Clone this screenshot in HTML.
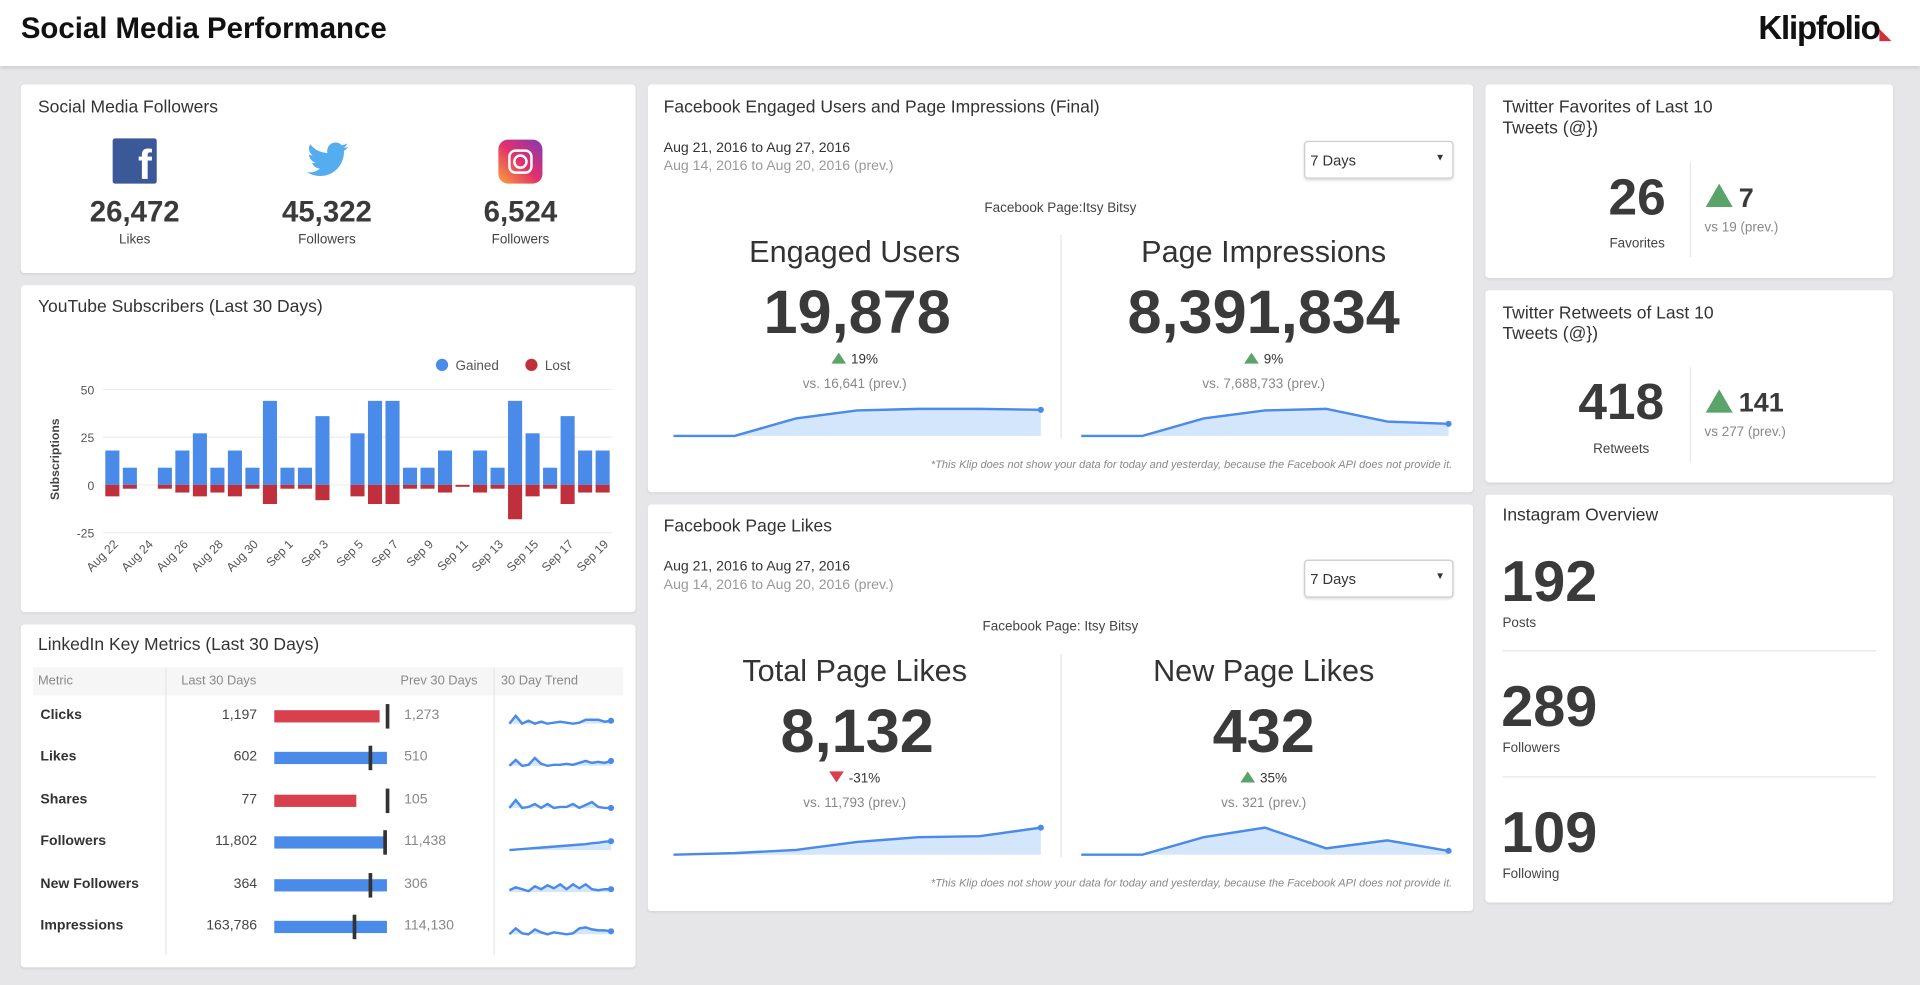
<!DOCTYPE html>
<html><head><meta charset="utf-8"><style>
html,body{margin:0;padding:0;width:1920px;height:985px;overflow:hidden;background:#e6e6e8;font-family:"Liberation Sans",sans-serif;}
#w{position:absolute;left:0;top:0;width:1568px;height:804px;transform:scale(1.22449);transform-origin:0 0;}
.a{position:absolute;}
.p{position:absolute;background:#fff;border-radius:3px;box-shadow:0 1px 2px rgba(0,0,0,.08);}
.t{position:absolute;font-size:14.3px;color:#333;}
.c{position:absolute;text-align:center;transform:translateX(-50%);white-space:nowrap;}
.big{font-weight:bold;color:#3a3a3a;}
.sm{font-size:11px;color:#444;}
.g{color:#888;}
.up{display:inline-block;width:0;height:0;border-left:6px solid transparent;border-right:6px solid transparent;border-bottom:9px solid #5aa469;margin-right:4px;}
.dn{display:inline-block;width:0;height:0;border-left:6px solid transparent;border-right:6px solid transparent;border-top:9px solid #d9404e;margin-right:4px;}
.dd{position:absolute;border:1px solid #ccc;border-radius:3px;font-size:12px;color:#333;box-shadow:0 1px 2px rgba(0,0,0,.15);}
.row{position:absolute;font-size:11.5px;}
</style></head><body><div id="w">
<div class="a" style="left:0;top:0;width:1568px;height:54px;background:#fff;box-shadow:0 1px 3px rgba(0,0,0,.15)"></div>
<div class="a" style="left:17px;top:10px;font-size:24px;font-weight:bold;color:#111">Social Media Performance</div>
<div class="a" style="left:1436px;top:8px;font-size:27px;font-weight:bold;color:#111;letter-spacing:-1px">Klipfolio<span style="color:#d32f3b;font-size:12px">◣</span></div>

<!-- panel 1 -->
<div class="p" style="left:17px;top:69px;width:502px;height:154px"></div>
<div class="t" style="left:31px;top:80px">Social Media Followers</div>
<div class="a" style="left:92px;top:113px;width:36px;height:37px;background:#3b5998;border-radius:2px;color:#fff;font-weight:bold;font-size:34px;text-align:right;line-height:44px;overflow:hidden"><span style="margin-right:4px">f</span></div>
<svg class="a" style="left:250px;top:115px" width="36" height="32" viewBox="0 0 24 20"><path d="M23 2.5c-.8.4-1.7.6-2.6.7.9-.6 1.6-1.4 2-2.5-.9.5-1.900.9-2.9 1.1A4.6 4.6 0 0 0 11.6 6 13 13 0 0 1 2.2 1.2a4.6 4.6 0 0 0 1.4 6.1c-.7 0-1.4-.2-2-.6 0 2.2 1.6 4.100 3.7 4.5-.7.2-1.4.2-2 .1.6 1.8 2.3 3.2 4.3 3.2A9.2 9.2 0 0 1 .5 16.4 13 13 0 0 0 7.5 18.5c8.5 0 13.100-7 13.100-13.100v-.6c.9-.6 1.7-1.4 2.4-2.3z" fill="#55acee"/></svg>
<div class="a" style="left:407px;top:114px;width:36px;height:36px;border-radius:8px;background:linear-gradient(45deg,#f9a23a,#e1306c 50%,#833ab4)"><div class="a" style="left:8px;top:8px;width:16px;height:16px;border:2.5px solid #fff;border-radius:6px"></div><div class="a" style="left:12px;top:12px;width:8px;height:8px;border:2.5px solid #fff;border-radius:50%"></div></div>
<div class="c big" style="left:110px;top:160px;font-size:24px">26,472</div><div class="c sm" style="left:110px;top:190px">Likes</div>
<div class="c big" style="left:267px;top:160px;font-size:24px">45,322</div><div class="c sm" style="left:267px;top:190px">Followers</div>
<div class="c big" style="left:425px;top:160px;font-size:24px">6,524</div><div class="c sm" style="left:425px;top:190px">Followers</div>

<!-- youtube -->
<div class="p" style="left:17px;top:233px;width:502px;height:267px"></div>
<div class="t" style="left:31px;top:243px">YouTube Subscribers (Last 30 Days)</div>
<svg class="a" id="yt" style="left:0;top:0" width="520" height="500"></svg>

<!-- linkedin -->
<div class="p" style="left:17px;top:510px;width:502px;height:280px"></div>
<div class="t" style="left:31px;top:519px">LinkedIn Key Metrics (Last 30 Days)</div>
<div class="a" style="left:27px;top:545px;width:482px;height:23px;background:#f6f6f6"></div>
<div class="a" style="left:135px;top:545px;width:1px;height:235px;background:#e6e6e6"></div>
<div class="a" style="left:403px;top:545px;width:1px;height:235px;background:#e6e6e6"></div>
<div class="row g" style="left:31px;top:550px;font-size:10.5px">Metric</div>
<div class="row g" style="left:148px;top:550px;font-size:10.5px">Last 30 Days</div>
<div class="row g" style="left:327px;top:550px;font-size:10.5px">Prev 30 Days</div>
<div class="row g" style="left:409px;top:550px;font-size:10.5px">30 Day Trend</div>
<div id="li"></div>

<!-- FB engaged -->
<div class="p" style="left:529px;top:69px;width:674px;height:333px"></div>
<div class="t" style="left:542px;top:80px">Facebook Engaged Users and Page Impressions (Final)</div>
<div class="a" style="left:542px;top:115px;font-size:11.5px;color:#333">Aug 21, 2016 to Aug 27, 2016</div>
<div class="a" style="left:542px;top:130px;font-size:11.5px;color:#999">Aug 14, 2016 to Aug 20, 2016 (prev.)</div>
<div class="dd" style="left:1065px;top:115px;width:120px;height:29px"><span class="a" style="left:4px;top:8px">7 Days</span><span class="a" style="right:6px;top:8px;font-size:8px">▼</span></div>
<div class="c sm" style="left:866px;top:164px">Facebook Page:Itsy Bitsy</div>
<div class="a" style="left:866px;top:192px;width:1px;height:166px;background:#e6e6e6"></div>
<div class="c" style="left:698px;top:192px;font-size:25px;color:#333">Engaged Users</div>
<div class="c big" style="left:700px;top:226px;font-size:50px">19,878</div>
<div class="c sm" style="left:698px;top:288px;color:#333"><span class="up"></span>19%</div>
<div class="c sm g" style="left:698px;top:308px">vs. 16,641 (prev.)</div>
<div class="c" style="left:1032px;top:192px;font-size:25px;color:#333">Page Impressions</div>
<div class="c big" style="left:1032px;top:226px;font-size:50px">8,391,834</div>
<div class="c sm" style="left:1032px;top:288px;color:#333"><span class="up"></span>9%</div>
<div class="c sm g" style="left:1032px;top:308px">vs. 7,688,733 (prev.)</div>
<div class="a" style="right:382px;top:374px;font-size:9px;font-style:italic;color:#888">*This Klip does not show your data for today and yesterday, because the Facebook API does not provide it.</div>

<!-- FB likes -->
<div class="p" style="left:529px;top:412px;width:674px;height:332px"></div>
<div class="t" style="left:542px;top:422px">Facebook Page Likes</div>
<div class="a" style="left:542px;top:457px;font-size:11.5px;color:#333">Aug 21, 2016 to Aug 27, 2016</div>
<div class="a" style="left:542px;top:472px;font-size:11.5px;color:#999">Aug 14, 2016 to Aug 20, 2016 (prev.)</div>
<div class="dd" style="left:1065px;top:457px;width:120px;height:29px"><span class="a" style="left:4px;top:8px">7 Days</span><span class="a" style="right:6px;top:8px;font-size:8px">▼</span></div>
<div class="c sm" style="left:866px;top:506px">Facebook Page: Itsy Bitsy</div>
<div class="a" style="left:866px;top:534px;width:1px;height:166px;background:#e6e6e6"></div>
<div class="c" style="left:698px;top:534px;font-size:25px;color:#333">Total Page Likes</div>
<div class="c big" style="left:700px;top:568px;font-size:50px">8,132</div>
<div class="c sm" style="left:698px;top:630px;color:#333"><span class="dn"></span>-31%</div>
<div class="c sm g" style="left:698px;top:650px">vs. 11,793 (prev.)</div>
<div class="c" style="left:1032px;top:534px;font-size:25px;color:#333">New Page Likes</div>
<div class="c big" style="left:1032px;top:568px;font-size:50px">432</div>
<div class="c sm" style="left:1032px;top:630px;color:#333"><span class="up"></span>35%</div>
<div class="c sm g" style="left:1032px;top:650px">vs. 321 (prev.)</div>
<div class="a" style="right:382px;top:716px;font-size:9px;font-style:italic;color:#888">*This Klip does not show your data for today and yesterday, because the Facebook API does not provide it.</div>
<svg class="a" id="fb" style="left:0;top:0" width="1210" height="720"></svg>

<!-- twitter -->
<div class="p" style="left:1213px;top:69px;width:333px;height:158px"></div>
<div class="t" style="left:1227px;top:80px;line-height:17px">Twitter Favorites of Last 10<br>Tweets (@})</div>
<div class="c big" style="left:1337px;top:137px;font-size:42px">26</div>
<div class="c sm" style="left:1337px;top:193px">Favorites</div>
<div class="a" style="left:1380px;top:133px;width:1px;height:77px;background:#e6e6e6"></div>
<div class="a" style="left:1393px;top:150px;border-left:11px solid transparent;border-right:11px solid transparent;border-bottom:19px solid #5aa469"></div>
<div class="a big" style="left:1420px;top:149px;font-size:22px">7</div>
<div class="a sm g" style="left:1392px;top:180px">vs 19 (prev.)</div>

<div class="p" style="left:1213px;top:237px;width:333px;height:157px"></div>
<div class="t" style="left:1227px;top:248px;line-height:17px">Twitter Retweets of Last 10<br>Tweets (@})</div>
<div class="c big" style="left:1324px;top:304px;font-size:42px">418</div>
<div class="c sm" style="left:1324px;top:361px">Retweets</div>
<div class="a" style="left:1380px;top:300px;width:1px;height:77px;background:#e6e6e6"></div>
<div class="a" style="left:1393px;top:318px;border-left:11px solid transparent;border-right:11px solid transparent;border-bottom:19px solid #5aa469"></div>
<div class="a big" style="left:1420px;top:316px;font-size:22px">141</div>
<div class="a sm g" style="left:1392px;top:347px">vs 277 (prev.)</div>

<!-- instagram -->
<div class="p" style="left:1213px;top:404px;width:333px;height:333px"></div>
<div class="t" style="left:1227px;top:413px">Instagram Overview</div>
<div class="a big" style="left:1226px;top:447px;font-size:47px">192</div>
<div class="a sm" style="left:1227px;top:503px">Posts</div>
<div class="a" style="left:1227px;top:531px;width:305px;height:1px;background:#e6e6e6"></div>
<div class="a big" style="left:1226px;top:549px;font-size:47px">289</div>
<div class="a sm" style="left:1227px;top:605px">Followers</div>
<div class="a" style="left:1227px;top:634px;width:305px;height:1px;background:#e6e6e6"></div>
<div class="a big" style="left:1226px;top:652px;font-size:47px">109</div>
<div class="a sm" style="left:1227px;top:708px">Following</div>
</div>
<script>
var NS="http://www.w3.org/2000/svg";
function el(p,n,a,txt){var e=document.createElementNS(NS,n);for(var k in a)e.setAttribute(k,a[k]);if(txt!=null)e.textContent=txt;p.appendChild(e);return e;}
var yt=document.getElementById('yt');
var g=[18,9,0,9,18,27,9,18,9,44,9,9,36,0,27,44,44,9,9,18,0,18,9,44,27,9,36,18,18];
var l=[6,2,0,2,4,6,4,6,2,10,2,2,8,0,6,10,10,2,2,4,1,4,2,18,6,2,10,4,4];
var z=396,s=1.56;
[[50,'50'],[25,'25'],[0,'0'],[-25,'-25']].forEach(function(v){var y=z-v[0]*s;el(yt,'line',{x1:84,x2:500,y1:y,y2:y,stroke:'#eee'});el(yt,'text',{x:77,y:y+4,'font-size':10,fill:'#555','text-anchor':'end','font-family':'Liberation Sans'},v[1]);});
el(yt,'text',{transform:'translate(48,375) rotate(-90)','font-size':10,'font-weight':'bold',fill:'#444','text-anchor':'middle','font-family':'Liberation Sans'},'Subscriptions');
var labs=['Aug 22','Aug 24','Aug 26','Aug 28','Aug 30','Sep 1','Sep 3','Sep 5','Sep 7','Sep 9','Sep 11','Sep 13','Sep 15','Sep 17','Sep 19'];
for(var i=0;i<29;i++){var x=86+i*14.3;
 if(g[i])el(yt,'rect',{x:x,y:z-g[i]*s,width:11.5,height:g[i]*s,fill:'#4a8ae8'});
 if(l[i])el(yt,'rect',{x:x,y:z,width:11.5,height:l[i]*s,fill:'#c0303c'});
 if(i%2==0){var cx=x+11;el(yt,'text',{transform:'translate('+cx+',445) rotate(-45)','font-size':10,fill:'#555','text-anchor':'end','font-family':'Liberation Sans'},labs[i/2]);}
}
el(yt,'circle',{cx:361,cy:298,r:5,fill:'#4a8ae8'});el(yt,'text',{x:372,y:302,'font-size':11,fill:'#555','font-family':'Liberation Sans'},'Gained');
el(yt,'circle',{cx:434,cy:298,r:5,fill:'#c0303c'});el(yt,'text',{x:445,y:302,'font-size':11,fill:'#555','font-family':'Liberation Sans'},'Lost');

function spark(svg,x0,x1,yb,pts,amp){var n=pts.length,d='',xs=[];for(var i=0;i<n;i++){var x=x0+(x1-x0)*i/(n-1),y=yb-pts[i]*amp;xs.push([x,y]);d+=(i?'L':'M')+x.toFixed(1)+' '+y.toFixed(1);}
 el(svg,'path',{d:d+'L'+x1+' '+yb+'L'+x0+' '+yb+'Z',fill:'#d4e6fb'});el(svg,'path',{d:d,fill:'none',stroke:'#4a8ae8','stroke-width':2});el(svg,'circle',{cx:xs[n-1][0],cy:xs[n-1][1],r:2.5,fill:'#4a8ae8'});}
var fb=document.getElementById('fb');
spark(fb,550,850,356,[0,0,.55,.8,.85,.85,.82],26);
spark(fb,883,1183,356,[0,0,.55,.8,.85,.45,.38],26);
spark(fb,550,850,698,[0,.05,.15,.4,.55,.58,.85],26);
spark(fb,883,1183,698,[0,0,.55,.85,.2,.45,.12],26);

var li=document.getElementById('li');
var rows=[['Clicks','1,197',224,310,'#d9404e',315,'1,273',[0,.8,0,.3,0,.2,0,.1,.2,.1,0,.1,.4,.4,.4,.2,.3]],
['Likes','602',224,316,'#4a8ae8',301,'510',[0,.6,0,.1,.8,.2,0,.1,.1,.2,.1,.3,.5,.3,.4,.3,.5]],
['Shares','77',224,291,'#d9404e',315,'105',[0,.8,0,.1,.4,0,.4,0,.1,.1,.4,0,.3,.6,.1,0,0]],
['Followers','11,802',224,316,'#4a8ae8',313,'11,438',[0,.05,.1,.15,.2,.25,.3,.35,.4,.45,.5,.55,.6,.7,.75,.85,.9]],
['New Followers','364',224,316,'#4a8ae8',301,'306',[.2,.5,.3,.1,.6,.3,.7,.4,.8,.3,.8,.4,.8,.3,.2,.3,.3]],
['Impressions','163,786',224,316,'#4a8ae8',288,'114,130',[0,.6,.1,0,.5,.2,0,.2,.1,0,.1,.6,.7,.5,.4,.4,.3]]];
var h='<svg class="a" style="left:0;top:0" width="520" height="800" id="ls"></svg>';
rows.forEach(function(r,i){var y=585+i*34.4;
 h+='<div class="row" style="left:33px;top:'+(y-7)+'px;font-weight:bold;color:#333">'+r[0]+'</div>';
 h+='<div class="row" style="right:1358px;top:'+(y-7)+'px;color:#444">'+r[1]+'</div>';
 h+='<div class="a" style="left:'+r[2]+'px;top:'+(y-5)+'px;width:'+(r[3]-r[2])+'px;height:10px;background:'+r[4]+'"></div>';
 h+='<div class="a" style="left:'+r[5]+'px;top:'+(y-10)+'px;width:2.5px;height:20px;background:#333"></div>';
 h+='<div class="row g" style="left:330px;top:'+(y-7)+'px">'+r[6]+'</div>';});
li.innerHTML=h;
var ls=document.getElementById('ls');
rows.forEach(function(r,i){var y=591+i*34.4;spark(ls,416,499,y,r[7],8);});
</script>
</body></html>
